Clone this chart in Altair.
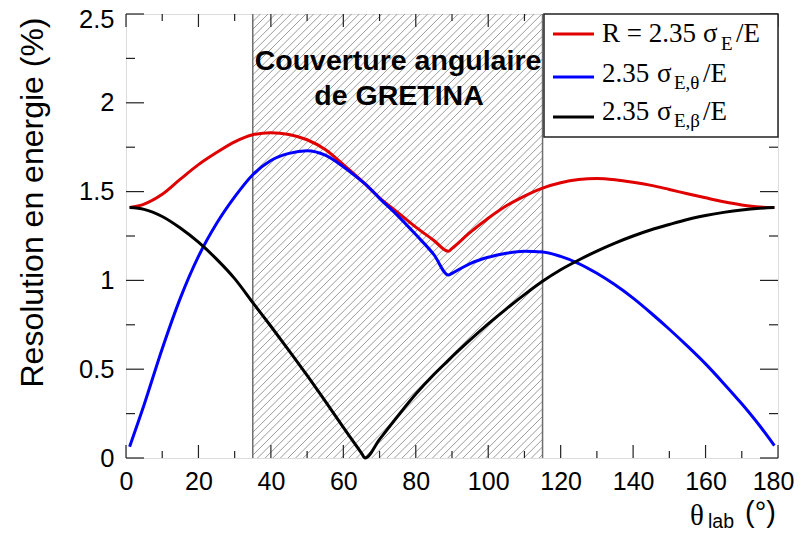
import altair as alt
import pandas as pd

# ---------------- data ----------------
theta = [1, 5, 10, 15, 20, 25, 30, 35, 40, 45, 50, 55, 60, 65, 66, 70, 75, 80, 85, 89,
         90, 95, 100, 105, 110, 115, 120, 125, 130, 135, 140, 145, 150, 155, 160, 165,
         170, 175, 179]
res_total = [1.41, 1.43, 1.485, 1.57, 1.652, 1.72, 1.78, 1.82, 1.832, 1.822, 1.792, 1.737,
             1.652, 1.562, 1.543, 1.465, 1.383, 1.30, 1.225, 1.164, 1.18, 1.27, 1.35, 1.42,
             1.475, 1.52, 1.55, 1.568, 1.574, 1.567, 1.553, 1.535, 1.512, 1.488, 1.465,
             1.443, 1.425, 1.413, 1.41]
res_theta = [0.064, 0.30, 0.615, 0.90, 1.135, 1.32, 1.47, 1.595, 1.675, 1.715, 1.73, 1.705,
             1.64, 1.56, 1.543, 1.462, 1.365, 1.258, 1.145, 1.03, 1.04, 1.095, 1.13, 1.153,
             1.164, 1.16, 1.135, 1.095, 1.04, 0.975, 0.90, 0.815, 0.725, 0.63, 0.53,
             0.42, 0.305, 0.18, 0.07]
res_beta = [1.41, 1.40, 1.36, 1.295, 1.215, 1.12, 1.01, 0.875, 0.742, 0.605, 0.465, 0.32,
            0.172, 0.028, 0.0, 0.105, 0.235, 0.36, 0.47, 0.55, 0.57, 0.665, 0.755, 0.84,
            0.92, 0.995, 1.06, 1.115, 1.165, 1.21, 1.25, 1.285, 1.315, 1.343, 1.365,
            1.383, 1.397, 1.406, 1.41]
coverage = [35, 115]           # GRETINA angular coverage (deg)
x_major = [0, 20, 40, 60, 80, 100, 120, 140, 160, 180]
x_minor = [10, 30, 50, 70, 90, 110, 130, 150, 170]
y_major = [0, 0.5, 1, 1.5, 2, 2.5]
y_minor = [0.25, 0.75, 1.25, 1.75, 2.25]

series_names = ["total", "theta", "beta"]
series_colors = ["#e00000", "#0000ff", "#000000"]

W, H = 652, 444
XMAX, YMAX = 180, 2.5
FRAME = "#222222"

xs = alt.Scale(domain=[0, XMAX], nice=False, zero=False)
ys = alt.Scale(domain=[0, YMAX], nice=False, zero=False)

# ---------------- hatch geometry for the coverage band ----------------
k = (H / YMAX) / (W / XMAX)   # degrees per y-unit for 45deg lines
step = 2.1
hatch = []
x0 = coverage[0] - k * YMAX
while x0 < coverage[1]:
    ya = max(0.0, (coverage[0] - x0) / k)
    yb = min(YMAX, (coverage[1] - x0) / k)
    if yb > ya:
        hatch.append({"hx": x0 + k * ya, "hy": ya, "hx2": x0 + k * yb, "hy2": yb})
    x0 += step
hatch_df = pd.DataFrame(hatch)

base_axis_x = alt.Axis(values=x_major, ticks=False, domain=False, grid=False,
                       labelFont="Liberation Sans", labelFontSize=25, labelColor="black",
                       labelPadding=11, labelFlush=False, labelOverlap=False, title=None,
                       labelOffset={"condition": {"test": "datum.value == 180", "value": -5},
                                    "value": 0})
base_axis_y = alt.Axis(values=y_major, ticks=False, domain=False, grid=False, format="~g",
                       labelFont="Liberation Sans", labelFontSize=25.5, labelColor="black",
                       labelPadding=12, labelFlush=False, labelOverlap=False,
                       labelOffset={"condition": {"test": "datum.value == 2.5", "value": 5},
                                    "value": 0},
                       title="Resolution en energie (%)", titleFont="Liberation Sans",
                       titleFontSize=32, titleFontWeight="normal", titleColor="black",
                       titleAngle=270, titleAlign="right", titleBaseline="middle",
                       titleX=-94, titleY=3)

hatch_layer = alt.Chart(hatch_df).mark_rule(color="#9a9a9a", strokeWidth=1).encode(
    x=alt.X("hx:Q", scale=xs, axis=base_axis_x),
    y=alt.Y("hy:Q", scale=ys, axis=base_axis_y),
    x2="hx2:Q", y2="hy2:Q",
)

band_df = pd.DataFrame({"edge": coverage})
band_edges = alt.Chart(band_df).mark_rule(color="#6e6e6e", strokeWidth=1.5).encode(
    x=alt.X("edge:Q", scale=xs), y=alt.value(0), y2=alt.value(H))

lines = []
for name, vals, col in zip(series_names, [res_total, res_theta, res_beta], series_colors):
    d = pd.DataFrame({"theta": theta, "value": vals})
    lines.append(alt.Chart(d).mark_line(color=col, strokeWidth=3, interpolate="monotone").encode(
        x=alt.X("theta:Q", scale=xs), y=alt.Y("value:Q", scale=ys)))

# ---------------- inward ticks on all four sides ----------------
def xt(vals, length):
    d = pd.DataFrame({"t": vals})
    b = alt.Chart(d).mark_rule(color=FRAME, strokeWidth=1.2).encode(
        x=alt.X("t:Q", scale=xs), y=alt.value(H), y2=alt.value(H - length))
    t = alt.Chart(d).mark_rule(color=FRAME, strokeWidth=1.2).encode(
        x=alt.X("t:Q", scale=xs), y=alt.value(0), y2=alt.value(length))
    return [b, t]

def yt(vals, length):
    d = pd.DataFrame({"t": vals})
    l = alt.Chart(d).mark_rule(color=FRAME, strokeWidth=1.2).encode(
        y=alt.Y("t:Q", scale=ys), x=alt.value(0), x2=alt.value(length))
    r = alt.Chart(d).mark_rule(color=FRAME, strokeWidth=1.2).encode(
        y=alt.Y("t:Q", scale=ys), x=alt.value(W), x2=alt.value(W - length))
    return [l, r]

ticks = xt(x_major, 13) + xt(x_minor, 7) + yt(y_major, 18) + yt(y_minor, 9)

# ---------------- texts ----------------
def txt(s, x, y, size, font="Liberation Sans", weight="normal", align="left"):
    return alt.Chart(pd.DataFrame({"s": [s]})).mark_text(
        font=font, fontSize=size, fontWeight=weight, align=align, baseline="alphabetic",
        color="black").encode(text="s:N", x=alt.value(x), y=alt.value(y))

texts = [
    txt("Couverture angulaire", 272, 56, 28.5, weight="bold", align="center"),
    txt("de GRETINA", 273, 91, 28.5, weight="bold", align="center"),
    txt("\u03b8", 564, 511, 29, font="Liberation Serif"),
    txt("lab", 582, 514, 19.5),
    txt("(\u00b0)", 619, 508, 29),
]

# legend box
legend_box = alt.Chart(pd.DataFrame({"a": [0]})).mark_rect(
    fill="white", stroke=FRAME, strokeWidth=1.5).encode(
    x=alt.value(418), x2=alt.value(W), y=alt.value(0), y2=alt.value(123))

leg_y = [20, 63, 103]
leg_items = []
for col, yy in zip(series_colors, leg_y):
    leg_items.append(alt.Chart(pd.DataFrame({"a": [0]})).mark_rule(
        color=col, strokeWidth=3).encode(x=alt.value(427), x2=alt.value(468), y=alt.value(yy)))

SER = "Liberation Serif"
leg_texts = [
    txt("R = 2.35", 476, 28, 27, font=SER),
    txt("\u03c3", 577, 28, 27, font=SER),
    txt("E", 595, 36, 19, font=SER),
    txt("/E", 610, 28, 27, font=SER),
    txt("2.35", 476, 68, 27, font=SER),
    txt("\u03c3", 531, 68, 27, font=SER),
    txt("E,\u03b8", 548, 75, 19, font=SER),
    txt("/E", 577, 68, 27, font=SER),
    txt("2.35", 476, 106, 27, font=SER),
    txt("\u03c3", 531, 106, 27, font=SER),
    txt("E,\u03b2", 548, 113, 19, font=SER),
    txt("/E", 577, 106, 27, font=SER),
]

chart = alt.layer(
    hatch_layer, band_edges, *lines, *ticks, *texts, legend_box, *leg_items, *leg_texts
).properties(
    width=W, height=H,
    autosize=alt.AutoSizeParams(type="none"),
    padding={"left": 118, "top": 6, "right": 17, "bottom": 75},
).configure_view(stroke=FRAME, strokeWidth=1.5).configure(background="white")

chart.save("out.html", embed_options={"renderer": "svg", "actions": False})
